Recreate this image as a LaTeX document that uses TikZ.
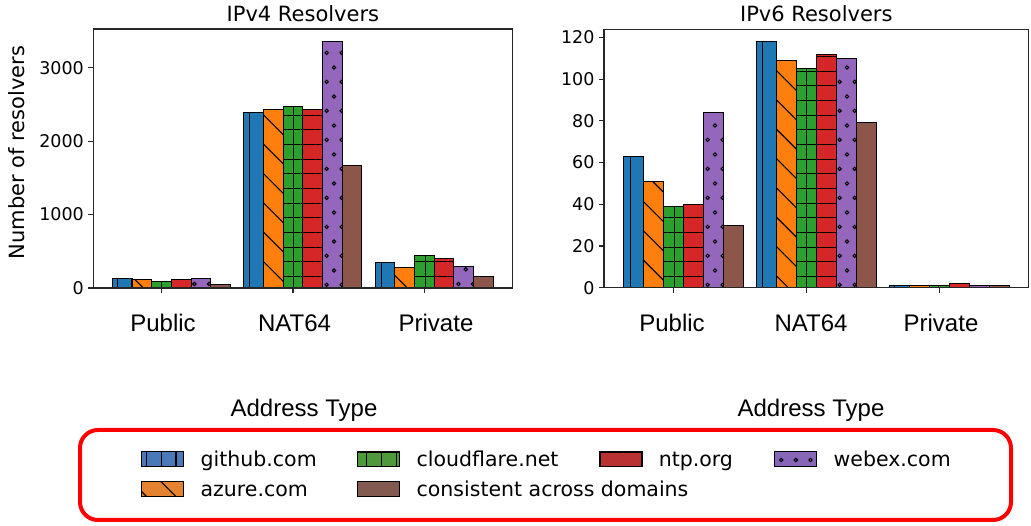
\documentclass[tikz,border=0pt]{standalone}
\usepackage{fontspec}
\setmainfont{DejaVu Sans}
\newfontfamily\catfont{Liberation Sans}
\usetikzlibrary{patterns.meta, positioning}

\definecolor{ghubc}{HTML}{1F77B4}
\definecolor{azurec}{HTML}{FF7F0E}
\definecolor{cflarec}{HTML}{2CA02C}
\definecolor{ntpc}{HTML}{D62728}
\definecolor{webexc}{HTML}{9467BD}
\definecolor{consc}{HTML}{8C564B}
% legend shades
\definecolor{ghubl}{HTML}{4A78B8}
\definecolor{azurel}{HTML}{E5822F}
\definecolor{cflarel}{HTML}{4E9A3A}
\definecolor{ntpl}{HTML}{B83232}
\definecolor{webexl}{HTML}{8766B8}
\definecolor{consl}{HTML}{835A50}

\tikzdeclarepattern{
  name=resdots,
  type=uncolored,
  bounding box={(0pt,0pt) and (14.67pt,29.33pt)},
  tile size={(14.67pt,29.33pt)},
  code={
    \draw[line width=1pt] (3.67pt,7.33pt) circle (1.7pt) (11pt,22pt) circle (1.7pt);
  }
}

\tikzset{
  bar/.style={draw=black, line width=1.1pt},
  ghub/.style={preaction={fill=#1}, pattern={Lines[angle=90, distance=14.67pt, line width=1.1pt]}},
  ghub/.default=ghubc,
  azure/.style={preaction={fill=#1}, pattern={Lines[angle=-45, distance=20.74pt, line width=1.1pt]}},
  azure/.default=azurec,
  cflare/.style={preaction={fill=#1}, pattern={Hatch[distance=14.67pt, line width=1.1pt]}},
  cflare/.default=cflarec,
  ntp/.style={preaction={fill=#1}, pattern={Lines[distance=14.67pt, line width=1.1pt]}},
  ntp/.default=ntpc,
  webex/.style={preaction={fill=#1}, pattern=resdots},
  webex/.default=webexc,
  cons/.style={fill=#1},
  cons/.default=consc,
  spine/.style={draw=black!85, line width=1.1pt},
  ticklab/.style={font=\fontsize{17.5}{20}\selectfont, inner sep=0pt},
  paneltitle/.style={font=\fontsize{21}{24}\selectfont, inner sep=0pt},
  catlab/.style={font=\catfont\fontsize{24}{28}\selectfont, inner sep=0pt},
  legtext/.style={font=\fontsize{20.5}{24}\selectfont, inner sep=0pt},
  legpatch/.style={bar, minimum width=42pt, minimum height=15pt, inner sep=0pt}
}

\begin{document}
\begin{tikzpicture}[x=1pt, y=1pt]
   \useasboundingbox (0,0) rectangle (1031,526);

   % IPv4 panel
   \begin{scope}[shift={(161.7,238)}, x=131.3pt, y=0.07341pt]
      \foreach \s/\i/\pub/\nat/\pri in {ghub/0/130/2390/345, azure/1/120/2430/280,
            cflare/2/85/2470/440, ntp/3/120/2430/405, webex/4/130/3360/290, cons/5/50/1665/158}
         \foreach \g/\v in {0/\pub, 1/\nat, 2/\pri}
            \draw[bar, \s] ({\g+(\i-2)*0.15-0.075},0) rectangle ({\g+(\i-2)*0.15+0.075},\v);
      \draw[spine] (-0.52,0) rectangle (2.67,3528);
      \foreach \t in {0,1000,2000,3000}
         \draw[spine] (-0.52,\t) -- ++(-5pt,0) node[ticklab, left=4pt] (v4y\t) {\t};
      \foreach \g in {0,1,2}
         \draw[spine] (\g,0) -- ++(0,-5pt);
   \end{scope}

   % IPv6 panel
   \begin{scope}[shift={(673.2,238.3)}, x=133.1pt, y=2.0855pt]
      \foreach \s/\i/\pub/\nat/\pri in {ghub/0/63/118/1, azure/1/51/109/1,
            cflare/2/39/105/1, ntp/3/40/112/2, webex/4/84/110/1, cons/5/30/79/1}
         \foreach \g/\v in {0/\pub, 1/\nat, 2/\pri}
            \draw[bar, \s] ({\g+(\i-2)*0.15-0.075},0) rectangle ({\g+(\i-2)*0.15+0.075},\v);
      \draw[spine] (-0.52,0) rectangle (2.67,123.9);
      \foreach \t in {0,20,...,120}
         \draw[spine] (-0.52,\t) -- ++(-5pt,0) node[ticklab, left=4pt] (v6y\t) {\t};
      \foreach \g in {0,1,2}
         \draw[spine] (\g,0) -- ++(0,-5pt);
   \end{scope}

   % Titles and axis labels
   \node[paneltitle, anchor=base] (t4) at (302.9,504.3) {IPv4 Resolvers};
   \node[paneltitle, anchor=base] (t6) at (816.3,504.3) {IPv6 Resolvers};
   \node[paneltitle, rotate=90] (ylab) at (17,373.5) {Number of resolvers};

   \node[catlab, anchor=base] (c4pub) at (163,194.3) {Public};
   \node[catlab, anchor=base] (c4nat) at (294.5,194.3) {NAT64};
   \node[catlab, anchor=base] (c4pri) at (436,194.3) {Private};
   \node[catlab, anchor=base] (c6pub) at (672,194.3) {Public};
   \node[catlab, anchor=base] (c6nat) at (811,194.3) {NAT64};
   \node[catlab, anchor=base] (c6pri) at (941,194.3) {Private};

   \node[catlab, anchor=base] (x4) at (304,109) {Address Type};
   \node[catlab, anchor=base] (x6) at (811,109) {Address Type};

   % Legend
   \draw[red, line width=4pt, rounded corners=18pt] (80,6) rectangle (1011,96);
   \node[legpatch, ghub=ghubl] (lg1) at (162.9,66.8) {};
   \node[legpatch, azure=azurel] (lg2) at (162.9,36.8) {};
   \node[legpatch, cflare=cflarel] (lg3) at (378.9,66.8) {};
   \node[legpatch, cons=consl] (lg4) at (378.9,36.8) {};
   \node[legpatch, ntp=ntpl] (lg5) at (621,66.8) {};
   \node[legpatch, webex=webexl] (lg6) at (795.9,66.8) {};

   \node[legtext, anchor=base west] (lt1) at ([xshift=16pt, yshift=1pt]lg1.south east) {github.com};
   \node[legtext, anchor=base west] (lt2) at ([xshift=16pt, yshift=1pt]lg2.south east) {azure.com};
   \node[legtext, anchor=base west] (lt3) at ([xshift=16pt, yshift=1pt]lg3.south east) {cloudflare.net};
   \node[legtext, anchor=base west] (lt4) at ([xshift=16pt, yshift=1pt]lg4.south east) {consistent across domains};
   \node[legtext, anchor=base west] (lt5) at ([xshift=16pt, yshift=1pt]lg5.south east) {ntp.org};
   \node[legtext, anchor=base west] (lt6) at ([xshift=16pt, yshift=1pt]lg6.south east) {webex.com};
\end{tikzpicture}
\end{document}
